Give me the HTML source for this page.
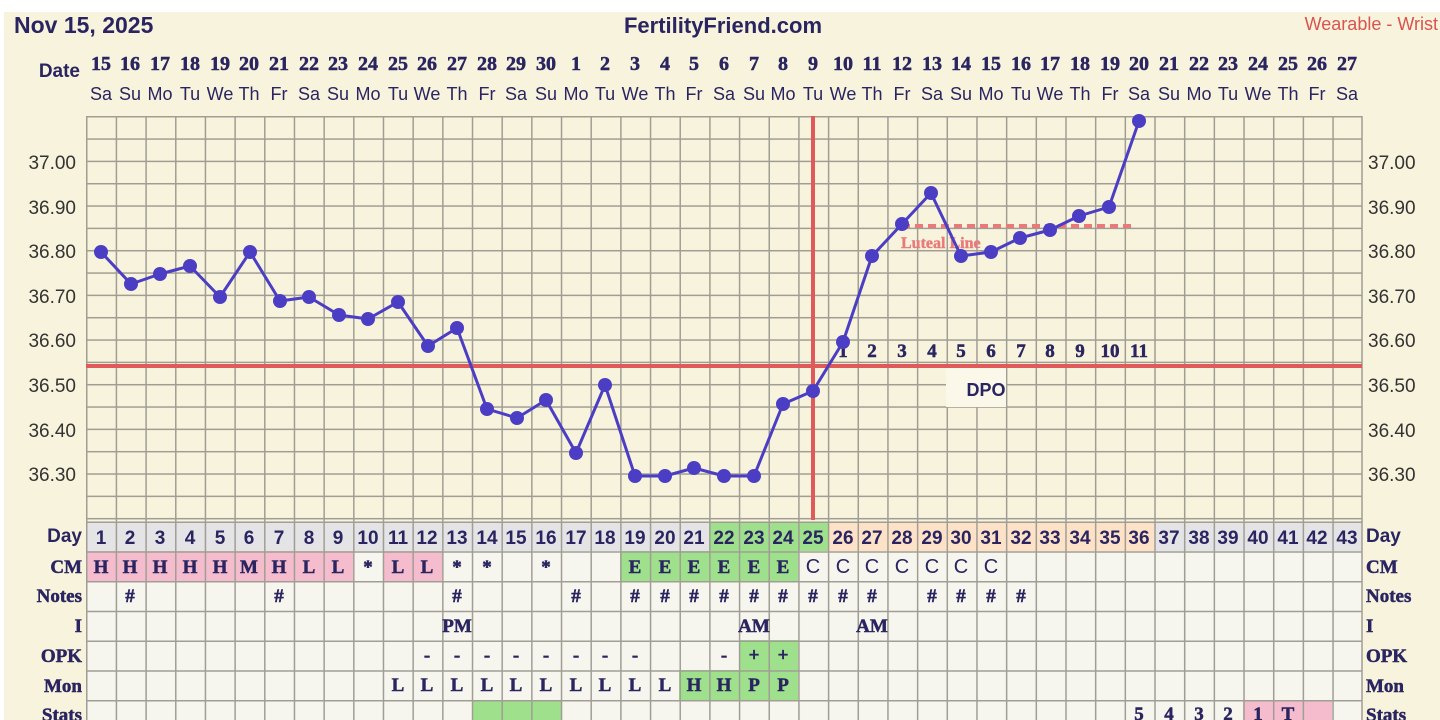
<!DOCTYPE html>
<html><head><meta charset="utf-8"><style>
html,body{margin:0;padding:0;background:#fff;}
svg{display:block}
.s{font-family:"Liberation Serif",serif;font-weight:bold;fill:#2a2560;stroke:#2a2560;stroke-width:0.5}
.n{font-family:"Liberation Sans",sans-serif;fill:#2a2560}
</style></head><body>
<svg width="1440" height="720" viewBox="0 0 1440 720" xmlns="http://www.w3.org/2000/svg">
<defs>
<pattern id="g1" patternUnits="userSpaceOnUse" x="86" y="116" width="29.674" height="22.33"><path d="M0.75 0V22.33M0 0.75H29.674" stroke="#a09e94" stroke-width="1.5" fill="none"/></pattern>
<pattern id="g2" patternUnits="userSpaceOnUse" x="86" y="521.5" width="29.674" height="29.75"><path d="M0.75 0V29.75M0 0.75H29.674" stroke="#a09e94" stroke-width="1.5" fill="none"/></pattern>
</defs>
<rect x="4" y="12" width="1436" height="708" fill="#f8f3dc"/>
<text x="14" y="33" class="n" font-size="23" font-weight="bold">Nov 15, 2025</text>
<text x="723" y="33" class="n" font-size="22" font-weight="bold" text-anchor="middle">FertilityFriend.com</text>
<text x="1438" y="30" font-family="Liberation Sans,sans-serif" font-size="18" fill="#d9534f" text-anchor="end">Wearable - Wrist</text>
<text x="80" y="77" class="n" font-size="19" font-weight="bold" text-anchor="end">Date</text>
<g class="s" font-size="20" text-anchor="middle">
<text x="101" y="70">15</text><text x="130" y="70">16</text><text x="160" y="70">17</text><text x="190" y="70">18</text><text x="220" y="70">19</text><text x="249" y="70">20</text><text x="279" y="70">21</text><text x="309" y="70">22</text><text x="338" y="70">23</text><text x="368" y="70">24</text><text x="398" y="70">25</text><text x="427" y="70">26</text><text x="457" y="70">27</text><text x="487" y="70">28</text><text x="516" y="70">29</text><text x="546" y="70">30</text><text x="576" y="70">1</text><text x="605" y="70">2</text><text x="635" y="70">3</text><text x="665" y="70">4</text><text x="694" y="70">5</text><text x="724" y="70">6</text><text x="754" y="70">7</text><text x="783" y="70">8</text><text x="813" y="70">9</text><text x="843" y="70">10</text><text x="872" y="70">11</text><text x="902" y="70">12</text><text x="932" y="70">13</text><text x="961" y="70">14</text><text x="991" y="70">15</text><text x="1021" y="70">16</text><text x="1050" y="70">17</text><text x="1080" y="70">18</text><text x="1110" y="70">19</text><text x="1139" y="70">20</text><text x="1169" y="70">21</text><text x="1199" y="70">22</text><text x="1228" y="70">23</text><text x="1258" y="70">24</text><text x="1288" y="70">25</text><text x="1317" y="70">26</text><text x="1347" y="70">27</text>
</g>
<g class="n" font-size="18" text-anchor="middle">
<text x="101" y="100">Sa</text><text x="130" y="100">Su</text><text x="160" y="100">Mo</text><text x="190" y="100">Tu</text><text x="220" y="100">We</text><text x="249" y="100">Th</text><text x="279" y="100">Fr</text><text x="309" y="100">Sa</text><text x="338" y="100">Su</text><text x="368" y="100">Mo</text><text x="398" y="100">Tu</text><text x="427" y="100">We</text><text x="457" y="100">Th</text><text x="487" y="100">Fr</text><text x="516" y="100">Sa</text><text x="546" y="100">Su</text><text x="576" y="100">Mo</text><text x="605" y="100">Tu</text><text x="635" y="100">We</text><text x="665" y="100">Th</text><text x="694" y="100">Fr</text><text x="724" y="100">Sa</text><text x="754" y="100">Su</text><text x="783" y="100">Mo</text><text x="813" y="100">Tu</text><text x="843" y="100">We</text><text x="872" y="100">Th</text><text x="902" y="100">Fr</text><text x="932" y="100">Sa</text><text x="961" y="100">Su</text><text x="991" y="100">Mo</text><text x="1021" y="100">Tu</text><text x="1050" y="100">We</text><text x="1080" y="100">Th</text><text x="1110" y="100">Fr</text><text x="1139" y="100">Sa</text><text x="1169" y="100">Su</text><text x="1199" y="100">Mo</text><text x="1228" y="100">Tu</text><text x="1258" y="100">We</text><text x="1288" y="100">Th</text><text x="1317" y="100">Fr</text><text x="1347" y="100">Sa</text>
</g>
<rect x="86" y="116" width="1276" height="406" fill="url(#g1)"/>
<line x1="1362" y1="116" x2="1362" y2="522" stroke="#a09e94" stroke-width="1.5"/>
<g font-family="Liberation Sans,sans-serif" font-size="19" fill="#333">
<g text-anchor="end"><text x="76" y="169">37.00</text><text x="76" y="214">36.90</text><text x="76" y="258">36.80</text><text x="76" y="303">36.70</text><text x="76" y="347">36.60</text><text x="76" y="392">36.50</text><text x="76" y="437">36.40</text><text x="76" y="481">36.30</text></g>
<text x="1368" y="169">37.00</text><text x="1368" y="214">36.90</text><text x="1368" y="258">36.80</text><text x="1368" y="303">36.70</text><text x="1368" y="347">36.60</text><text x="1368" y="392">36.50</text><text x="1368" y="437">36.40</text><text x="1368" y="481">36.30</text>
</g>
<line x1="86" y1="366" x2="1362" y2="366" stroke="#e05a5a" stroke-width="4"/>
<line x1="813" y1="116" x2="813" y2="520" stroke="#e05a5a" stroke-width="4"/>
<line x1="902" y1="226" x2="1134" y2="226" stroke="#e87a7a" stroke-width="4" stroke-dasharray="8 5"/>
<text x="901" y="248" font-family="Liberation Serif,serif" font-weight="bold" font-size="16" fill="#e87a7a" stroke="#e87a7a" stroke-width="0.4">Luteal Line</text>
<rect x="946" y="368" width="60" height="39" fill="#fbf8ea"/>
<text x="986" y="396" class="n" font-size="18" font-weight="bold" text-anchor="middle">DPO</text>
<g class="s" font-size="19" text-anchor="middle">
<text x="843" y="357">1</text><text x="872" y="357">2</text><text x="902" y="357">3</text><text x="932" y="357">4</text><text x="961" y="357">5</text><text x="991" y="357">6</text><text x="1021" y="357">7</text><text x="1050" y="357">8</text><text x="1080" y="357">9</text><text x="1110" y="357">10</text><text x="1139" y="357">11</text>
</g>
<polyline fill="none" stroke="#4b3ec4" stroke-width="3" stroke-linejoin="round" points="101,252 131,284 160,274 190,266 220,297 250,252 280,301 309,297 339,315 368,319 398,302 428,346 457,328 487,409 517,418 546,400 576,453 605,385 635,476 665,476 694,468 724,476 754,476 783,404 813,391 843,342 872,256 902,224 931,193 961,256 991,252 1020,238 1050,230 1079,216 1109,207 1139,121"/>
<g fill="#4b3ec4">
<circle cx="101" cy="252" r="7"/><circle cx="131" cy="284" r="7"/><circle cx="160" cy="274" r="7"/><circle cx="190" cy="266" r="7"/><circle cx="220" cy="297" r="7"/><circle cx="250" cy="252" r="7"/><circle cx="280" cy="301" r="7"/><circle cx="309" cy="297" r="7"/><circle cx="339" cy="315" r="7"/><circle cx="368" cy="319" r="7"/><circle cx="398" cy="302" r="7"/><circle cx="428" cy="346" r="7"/><circle cx="457" cy="328" r="7"/><circle cx="487" cy="409" r="7"/><circle cx="517" cy="418" r="7"/><circle cx="546" cy="400" r="7"/><circle cx="576" cy="453" r="7"/><circle cx="605" cy="385" r="7"/><circle cx="635" cy="476" r="7"/><circle cx="665" cy="476" r="7"/><circle cx="694" cy="468" r="7"/><circle cx="724" cy="476" r="7"/><circle cx="754" cy="476" r="7"/><circle cx="783" cy="404" r="7"/><circle cx="813" cy="391" r="7"/><circle cx="843" cy="342" r="7"/><circle cx="872" cy="256" r="7"/><circle cx="902" cy="224" r="7"/><circle cx="931" cy="193" r="7"/><circle cx="961" cy="256" r="7"/><circle cx="991" cy="252" r="7"/><circle cx="1020" cy="238" r="7"/><circle cx="1050" cy="230" r="7"/><circle cx="1079" cy="216" r="7"/><circle cx="1109" cy="207" r="7"/><circle cx="1139" cy="121" r="7"/>
</g>
<rect x="86" y="522" width="1276" height="198" fill="#f6f5ee"/>
<rect x="86" y="522" width="1276" height="29" fill="#e4e3e6"/>
<rect x="709" y="522" width="119" height="29" fill="#9fe08c"/>
<rect x="828" y="522" width="326" height="29" fill="#fde2c8"/>
<rect x="86" y="551" width="267" height="30" fill="#f4bccd"/>
<rect x="383" y="551" width="59" height="30" fill="#f4bccd"/>
<rect x="620" y="551" width="178" height="30" fill="#9fe08c"/>
<rect x="739" y="640" width="59" height="30" fill="#9fe08c"/>
<rect x="679" y="670" width="119" height="30" fill="#9fe08c"/>
<rect x="472" y="700" width="89" height="20" fill="#9fe08c"/>
<rect x="1243" y="700" width="89" height="20" fill="#f4bccd"/>
<rect x="86" y="521.5" width="1276" height="199" fill="url(#g2)"/>
<line x1="1362" y1="521" x2="1362" y2="720" stroke="#a09e94" stroke-width="1.5"/>
<g class="n" font-size="19" font-weight="bold" text-anchor="middle">
<text x="101" y="544">1</text><text x="130" y="544">2</text><text x="160" y="544">3</text><text x="190" y="544">4</text><text x="220" y="544">5</text><text x="249" y="544">6</text><text x="279" y="544">7</text><text x="309" y="544">8</text><text x="338" y="544">9</text><text x="368" y="544">10</text><text x="398" y="544">11</text><text x="427" y="544">12</text><text x="457" y="544">13</text><text x="487" y="544">14</text><text x="516" y="544">15</text><text x="546" y="544">16</text><text x="576" y="544">17</text><text x="605" y="544">18</text><text x="635" y="544">19</text><text x="665" y="544">20</text><text x="694" y="544">21</text><text x="724" y="544">22</text><text x="754" y="544">23</text><text x="783" y="544">24</text><text x="813" y="544">25</text><text x="843" y="544">26</text><text x="872" y="544">27</text><text x="902" y="544">28</text><text x="932" y="544">29</text><text x="961" y="544">30</text><text x="991" y="544">31</text><text x="1021" y="544">32</text><text x="1050" y="544">33</text><text x="1080" y="544">34</text><text x="1110" y="544">35</text><text x="1139" y="544">36</text><text x="1169" y="544">37</text><text x="1199" y="544">38</text><text x="1228" y="544">39</text><text x="1258" y="544">40</text><text x="1288" y="544">41</text><text x="1317" y="544">42</text><text x="1347" y="544">43</text>
</g>
<g class="s" font-size="19" text-anchor="middle">
<text x="101" y="573">H</text><text x="130" y="573">H</text><text x="160" y="573">H</text><text x="190" y="573">H</text><text x="220" y="573">H</text><text x="249" y="573">M</text><text x="279" y="573">H</text><text x="309" y="573">L</text><text x="338" y="573">L</text><text x="368" y="573">*</text><text x="398" y="573">L</text><text x="427" y="573">L</text><text x="457" y="573">*</text><text x="487" y="573">*</text><text x="546" y="573">*</text>
<text x="635" y="573">E</text><text x="665" y="573">E</text><text x="694" y="573">E</text><text x="724" y="573">E</text><text x="754" y="573">E</text><text x="783" y="573">E</text>
<text x="130" y="602">#</text><text x="279" y="602">#</text><text x="457" y="602">#</text><text x="576" y="602">#</text><text x="635" y="602">#</text><text x="665" y="602">#</text><text x="694" y="602">#</text><text x="724" y="602">#</text><text x="754" y="602">#</text><text x="783" y="602">#</text><text x="813" y="602">#</text><text x="843" y="602">#</text><text x="872" y="602">#</text><text x="932" y="602">#</text><text x="961" y="602">#</text><text x="991" y="602">#</text><text x="1021" y="602">#</text>
<text x="457" y="632">PM</text><text x="754" y="632">AM</text><text x="872" y="632">AM</text>
<text x="427" y="661">-</text><text x="457" y="661">-</text><text x="487" y="661">-</text><text x="516" y="661">-</text><text x="546" y="661">-</text><text x="576" y="661">-</text><text x="605" y="661">-</text><text x="635" y="661">-</text><text x="724" y="661">-</text><text x="754" y="661">+</text><text x="783" y="661">+</text>
<text x="398" y="691">L</text><text x="427" y="691">L</text><text x="457" y="691">L</text><text x="487" y="691">L</text><text x="516" y="691">L</text><text x="546" y="691">L</text><text x="576" y="691">L</text><text x="605" y="691">L</text><text x="635" y="691">L</text><text x="665" y="691">L</text><text x="694" y="691">H</text><text x="724" y="691">H</text><text x="754" y="691">P</text><text x="783" y="691">P</text>
<text x="1139" y="720">5</text><text x="1169" y="720">4</text><text x="1199" y="720">3</text><text x="1228" y="720">2</text><text x="1258" y="720">1</text><text x="1288" y="720">T</text>
</g>
<g class="n" font-size="20" text-anchor="middle">
<text x="813" y="573">C</text><text x="843" y="573">C</text><text x="872" y="573">C</text><text x="902" y="573">C</text><text x="932" y="573">C</text><text x="961" y="573">C</text><text x="991" y="573">C</text>
</g>
<text x="82" y="542" class="n" font-size="19" font-weight="bold" text-anchor="end">Day</text>
<text x="1366" y="542" class="n" font-size="19" font-weight="bold">Day</text>
<g class="s" font-size="19" text-anchor="end">
<text x="82" y="573">CM</text><text x="82" y="602">Notes</text><text x="82" y="632">I</text><text x="82" y="662">OPK</text><text x="82" y="692">Mon</text><text x="82" y="721">Stats</text>
</g>
<g class="s" font-size="19">
<text x="1366" y="573">CM</text><text x="1366" y="602">Notes</text><text x="1366" y="632">I</text><text x="1366" y="662">OPK</text><text x="1366" y="692">Mon</text><text x="1366" y="721">Stats</text>
</g>
</svg>
</body></html>
